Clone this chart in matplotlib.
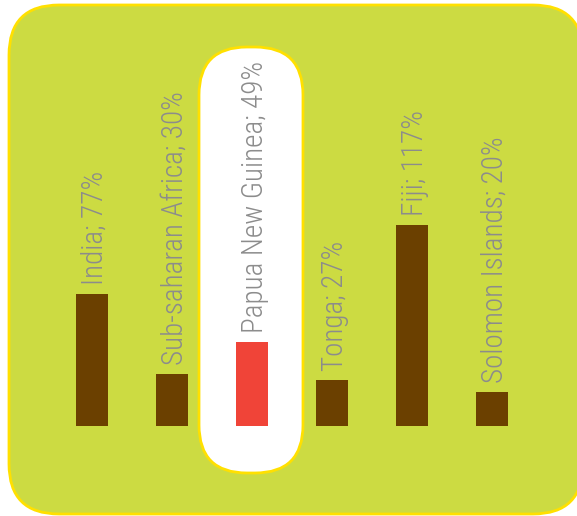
import matplotlib
matplotlib.use("Agg")
import matplotlib.pyplot as plt
from matplotlib.patches import FancyBboxPatch
from matplotlib import font_manager as fm

categories = ["India", "Sub-saharan Africa", "Papua New Guinea", "Tonga", "Fiji", "Solomon Islands"]
values = [77, 30, 49, 27, 117, 20]
highlight = "Papua New Guinea"

W, H, DPI = 577, 516, 100

# choose a narrow font if one is installed
names = {f.name for f in fm.fontManager.ttflist}
font_kw = dict(family="DejaVu Sans", fontstretch="condensed")
for cand in ["Roboto Condensed", "Liberation Sans Narrow"]:
    if cand in names:
        font_kw = dict(family=cand, fontweight="light")
        break

fig = plt.figure(figsize=(W / DPI, H / DPI), dpi=DPI)
fig.patch.set_facecolor("white")

# background panel in pixel coordinates
bg = fig.add_axes([0, 0, 1, 1])
bg.set_xlim(0, W)
bg.set_ylim(H, 0)
bg.axis("off")
bg.add_patch(FancyBboxPatch((9, 5), 574, 509, boxstyle="round,pad=0,rounding_size=50",
                            facecolor="#CCDB42", edgecolor="#FFE000", linewidth=2))
bg.add_patch(FancyBboxPatch((199, 47), 104, 426, boxstyle="round,pad=0,rounding_size=48",
                            facecolor="white", edgecolor="#FFE000", linewidth=2))

# bar axes
scale = 1.72  # px per percent
ymax = 130
ax = fig.add_axes([52 / W, 90 / H, 480 / W, ymax * scale / H])
ax.set_xlim(-0.5, len(categories) - 0.5)
ax.set_ylim(0, ymax)
ax.axis("off")
ax.patch.set_alpha(0)

x = list(range(len(categories)))
colors = ["#F04438" if c == highlight else "#6B4000" for c in categories]
ax.bar(x, values, width=0.4, color=colors)

for xi, c, v in zip(x, categories, values):
    ax.annotate(f"{c}; {v}%", xy=(xi, v), xytext=(11 * 0.72, 9 * 0.72),
                textcoords="offset points", rotation=90, rotation_mode="anchor",
                ha="left", va="baseline", color="#8C8C8C", fontsize=21, **font_kw)

fig.savefig("out.png", dpi=DPI)
